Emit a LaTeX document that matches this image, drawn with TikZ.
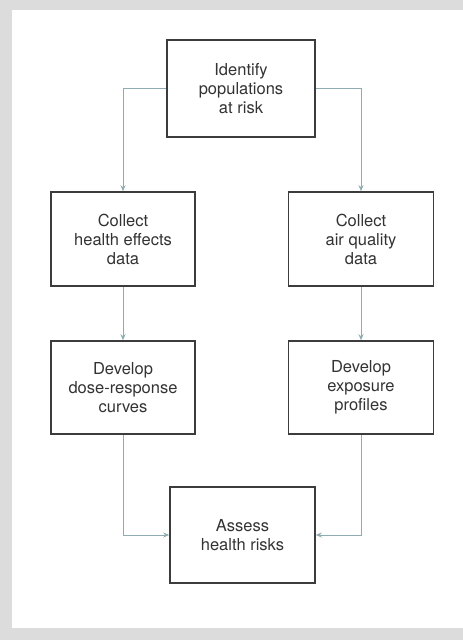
\documentclass[tikz,border=0pt]{standalone}
\usepackage{fontspec}
\setmainfont{TeX Gyre Heros}
\usepackage{xcolor}
\usepackage{tikz}
\usetikzlibrary{arrows.meta}
\definecolor{framegray}{HTML}{DCDCDC}
\definecolor{boxgray}{HTML}{3C3C3C}
\definecolor{textgray}{HTML}{333333}
\definecolor{linkblue}{HTML}{8FACB3}

\begin{document}
\begin{tikzpicture}[x=1pt, y=-1pt,
  stepbox/.style={draw=boxgray, line width=1.6pt, rectangle, align=center,
    text=textgray, font=\fontsize{16.5}{19}\selectfont, inner sep=0pt},
  link/.style={draw=linkblue, line width=0.9pt, -{Stealth[length=6pt,width=5pt]}}]
  % frame
  \fill[framegray] (0,0) rectangle (463,640);
  \fill[white] (12,10) rectangle (463,628);
  \useasboundingbox (0,0) rectangle (463,640);
  % boxes
  \node[stepbox, minimum width=148pt, minimum height=97pt] (identify) at (241,88.5)
    {Identify\\populations\\at risk};
  \node[stepbox, minimum width=144pt, minimum height=94pt] (health) at (123,239)
    {Collect\\health effects\\data};
  \node[stepbox, minimum width=145pt, minimum height=94pt] (air) at (361,239)
    {Collect\\air quality\\data};
  \node[stepbox, minimum width=144pt, minimum height=93pt] (dose) at (123,387.5)
    {Develop\\dose-response\\curves};
  \node[stepbox, minimum width=145pt, minimum height=93pt] (exposure) at (361,387.5)
    {Develop\\exposure\\profiles};
  \node[stepbox, minimum width=145pt, minimum height=96pt] (assess) at (242.5,535)
    {Assess\\health risks};
  % connectors
  \draw[link] (identify.west) -| (health.north);
  \draw[link] (identify.east) -| (air.north);
  \draw[link] (health) -- (dose);
  \draw[link] (air) -- (exposure);
  \draw[link] (dose.south) |- (assess.west);
  \draw[link] (exposure.south) |- (assess.east);
\end{tikzpicture}
\end{document}
